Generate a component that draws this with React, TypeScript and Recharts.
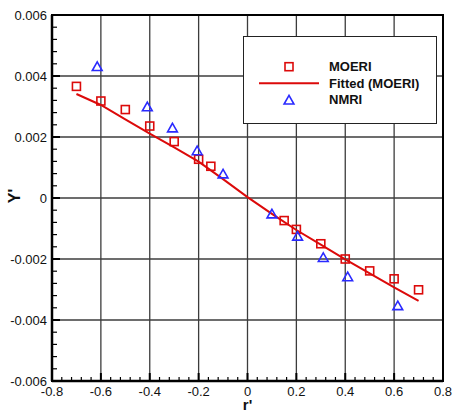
import React from "react";
import {
  ComposedChart,
  Scatter,
  Line,
  XAxis,
  YAxis,
  CartesianGrid,
  ReferenceArea,
  Legend,
} from "recharts";

// r' positions and measured Y' values
const moeriR = [-0.7, -0.6, -0.5, -0.4, -0.3, -0.2, -0.15, 0.15, 0.2, 0.3, 0.4, 0.5, 0.6, 0.7];
const moeriY = [
  0.00366, 0.00318, 0.0029, 0.00236, 0.00185, 0.00127, 0.00104,
  -0.00074, -0.00103, -0.0015, -0.002, -0.00239, -0.00265, -0.00301,
];

const nmriR = [-0.615, -0.41, -0.307, -0.206, -0.1, 0.1, 0.205, 0.31, 0.41, 0.615];
const nmriY = [
  0.00431, 0.00299, 0.0023, 0.00155, 0.00079,
  -0.00052, -0.00125, -0.00195, -0.00258, -0.00353,
];

// fitted curve through the MOERI data
const fitR = [-0.7, -0.6, -0.5, -0.4, -0.3, -0.2, -0.1, 0, 0.1, 0.2, 0.3, 0.4, 0.5, 0.6, 0.7];
const fitY = [
  0.00341, 0.00305, 0.00258, 0.00211, 0.00166, 0.00119, 0.00062, 0.00003,
  -0.00052, -0.00105, -0.00153, -0.00201, -0.00247, -0.00293, -0.00337,
];

const xTicks = [-0.8, -0.6, -0.4, -0.2, 0, 0.2, 0.4, 0.6, 0.8];
const yTicks = [-0.006, -0.004, -0.002, 0, 0.002, 0.004, 0.006];
// major + minor tick positions (4 minor ticks between labelled ones)
const xAllTicks = Array.from({ length: 41 }, (_, i) => Math.round((-0.8 + i * 0.04) * 1000) / 1000);
const yAllTicks = Array.from({ length: 31 }, (_, i) => Math.round((-0.006 + i * 0.0004) * 1e6) / 1e6);

const legendNames = ["MOERI", "Fitted (MOERI)", "NMRI"];

const toRows = (xs: number[], ys: number[]) => xs.map((x, i) => ({ x, y: ys[i] }));
const moeriRows = toRows(moeriR, moeriY);
const nmriRows = toRows(nmriR, nmriY);
const fitRows = toRows(fitR, fitY);

const FONT = '"Liberation Sans", Arial, sans-serif';
const RED = "#dc0a0a";
const BLUE = "#2a2aff";
const X_DOMAIN: [number, number] = [-0.8, 0.8];
const Y_DOMAIN: [number, number] = [-0.006, 0.006];

const isMajor = (v: number, majors: number[]) => majors.some((m) => Math.abs(m - v) < 1e-9);

// bottom axis tick: inward tick mark, label only on major ticks
const XTick = (props: any) => {
  const { x, y, payload } = props;
  const v = payload.value as number;
  const major = isMajor(v, xTicks);
  return (
    <g>
      <line x1={x} x2={x} y1={y} y2={y - (major ? 8 : 4)} stroke="#000" strokeWidth={major ? 2 : 1.2} />
      {major && (
        <text x={x} y={y + 15} textAnchor="middle" fontFamily={FONT} fontSize={13} fill="#111">
          {String(v)}
        </text>
      )}
    </g>
  );
};

// left axis tick: inward tick mark, label only on major ticks
const YTick = (props: any) => {
  const { x, y, payload } = props;
  const v = payload.value as number;
  const major = isMajor(v, yTicks);
  return (
    <g>
      <line x1={x} x2={x + (major ? 8 : 5)} y1={y} y2={y} stroke="#000" strokeWidth={major ? 2 : 1.2} />
      {major && (
        <text
          x={x - 5}
          y={y}
          textAnchor="end"
          dominantBaseline="central"
          fontFamily={FONT}
          fontSize={13}
          fill="#111"
        >
          {v === 0 ? "0" : v.toFixed(3)}
        </text>
      )}
    </g>
  );
};

const applyScale = (axis: any, v: number) => {
  const s = axis?.scale;
  if (typeof s === "function") return s(v);
  if (s && typeof s.map === "function") return s.map(v);
  return undefined;
};

// grid lines only at the labelled ticks
const gridX = (p: any) =>
  xTicks.map((t) => {
    const c = applyScale(p.xAxis, t);
    return c ?? p.offset.left + ((t - X_DOMAIN[0]) / (X_DOMAIN[1] - X_DOMAIN[0])) * p.offset.width;
  });
const gridY = (p: any) =>
  yTicks.map((t) => {
    const c = applyScale(p.yAxis, t);
    return c ?? p.offset.top + ((Y_DOMAIN[1] - t) / (Y_DOMAIN[1] - Y_DOMAIN[0])) * p.offset.height;
  });

const SquareMark = (props: any) => {
  const { cx, cy } = props;
  if (cx == null || cy == null) return null;
  return (
    <rect x={cx - 4} y={cy - 4} width={8} height={8} fill="none" stroke={RED} strokeWidth={1.6} />
  );
};

const TriangleMark = (props: any) => {
  const { cx, cy } = props;
  if (cx == null || cy == null) return null;
  return (
    <polygon
      points={`${cx},${cy - 4.6} ${cx - 4.9},${cy + 4} ${cx + 4.9},${cy + 4}`}
      fill="none"
      stroke={BLUE}
      strokeWidth={1.6}
      strokeLinejoin="miter"
    />
  );
};

const LegendBox = () => (
  <div
    style={{
      width: 194,
      height: 88,
      boxSizing: "border-box",
      border: "1px solid #222",
      background: "#fff",
    }}
  >
    <svg width={192} height={86} style={{ display: "block" }}>
      <rect x={41} y={25.7} width={8} height={8} fill="none" stroke={RED} strokeWidth={1.6} />
      <line x1={15} x2={75} y1={46.3} y2={46.3} stroke={RED} strokeWidth={2} />
      <polygon points="45,58.4 40.1,67 49.9,67" fill="none" stroke={BLUE} strokeWidth={1.6} />
      {legendNames.map((name, i) => (
        <text
          key={name}
          x={85}
          y={29.7 + i * 16.6}
          dominantBaseline="central"
          fontFamily={FONT}
          fontWeight="bold"
          fontSize={13}
          fill="#111"
        >
          {name}
        </text>
      ))}
    </svg>
  </div>
);

const YLabel = (props: any) => {
  const vb = props.viewBox || {};
  const cx = vb.x + 14;
  const cy = vb.y + vb.height / 2 - 2;
  return (
    <text
      x={cx}
      y={cy}
      transform={`rotate(-90 ${cx} ${cy})`}
      textAnchor="middle"
      dominantBaseline="central"
      fontFamily={FONT}
      fontWeight="bold"
      fontSize={16}
      fill="#111"
    >
      Y'
    </text>
  );
};

const XLabel = (props: any) => {
  const vb = props.viewBox || {};
  return (
    <text
      x={vb.x + vb.width / 2}
      y={vb.y + 29}
      textAnchor="middle"
      fontFamily={FONT}
      fontWeight="bold"
      fontSize={15}
      fill="#111"
    >
      r'
    </text>
  );
};

export default function App() {
  return (
    <div style={{ position: "absolute", left: 0, top: 0, background: "#fff" }}>
      <ComposedChart width={454} height={412} margin={{ top: 15, right: 11, bottom: 0, left: 0 }}>
        <CartesianGrid
          stroke="#3c3c3c"
          strokeWidth={1.3}
          verticalCoordinatesGenerator={gridX}
          horizontalCoordinatesGenerator={gridY}
        />
        <XAxis
          dataKey="x"
          type="number"
          domain={X_DOMAIN}
          ticks={xAllTicks}
          allowDataOverflow
          height={31}
          interval={0}
          tickSize={0}
          tickMargin={0}
          tickLine={false}
          axisLine={{ stroke: "#000", strokeWidth: 2.5 }}
          tick={XTick}
          label={XLabel}
        />
        <YAxis
          type="number"
          domain={Y_DOMAIN}
          ticks={yAllTicks}
          allowDataOverflow
          width={52}
          interval={0}
          tickSize={0}
          tickMargin={0}
          tickLine={false}
          axisLine={{ stroke: "#000", strokeWidth: 2.5 }}
          tick={YTick}
          label={YLabel}
        />
        <ReferenceArea
          x1={X_DOMAIN[0]}
          x2={X_DOMAIN[1]}
          y1={Y_DOMAIN[0]}
          y2={Y_DOMAIN[1]}
          fill="none"
          stroke="#000"
          strokeWidth={2}
          ifOverflow="visible"
        />
        <Line
          name="Fitted (MOERI)"
          data={fitRows}
          dataKey="y"
          type="linear"
          stroke={RED}
          strokeWidth={2}
          dot={false}
          activeDot={false}
          isAnimationActive={false}
        />
        <Scatter name="MOERI" data={moeriRows} dataKey="y" shape={SquareMark} isAnimationActive={false} />
        <Scatter name="NMRI" data={nmriRows} dataKey="y" shape={TriangleMark} isAnimationActive={false} />
        <Legend
          layout="vertical"
          align="center"
          verticalAlign="middle"
          content={LegendBox}
          wrapperStyle={{ position: "absolute", left: 243, top: 36, width: 194, height: 88 }}
        />
      </ComposedChart>
    </div>
  );
}
